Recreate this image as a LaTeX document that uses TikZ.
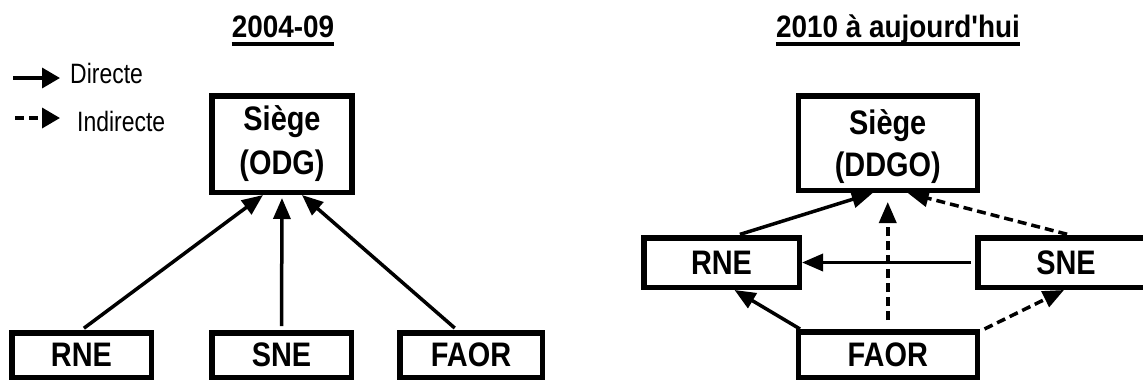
\documentclass[tikz,border=0pt]{standalone}
\usepackage{fontspec}
\setmainfont{Liberation Sans}[FakeStretch=0.82]
\newfontfamily\ttlfont{Liberation Sans}[FakeStretch=0.9]
\newfontfamily\boxfont{Liberation Sans}[FakeStretch=0.85]
\usetikzlibrary{arrows.meta}

\tikzset{
  box/.style={draw, line width=5.5pt, inner sep=0pt,
    font=\boxfont\bfseries\fontsize{34}{40}\selectfont},
  lbl/.style={inner sep=0pt, anchor=base,
    font=\boxfont\bfseries\fontsize{34}{40}\selectfont},
  ttl/.style={inner sep=0pt, anchor=base,
    font=\ttlfont\bfseries\fontsize{31}{36}\selectfont},
  leg/.style={inner sep=0pt, anchor=base west,
    font=\fontsize{28}{32}\selectfont},
  link/.style={line width=3.5pt, -{Triangle[length=21pt,width=17pt]}},
  ind/.style={link, dash pattern=on 9pt off 5pt},
  legtip/.style={line width=3.5pt, -{Triangle[length=18pt,width=20pt]}},
  ul/.style={line width=3.5pt},
}

\begin{document}
\begin{tikzpicture}[x=1pt, y=-1pt]
\useasboundingbox (0,0) rectangle (1143,381);

% titles
\node[ttl] (tl) at (283,37) {2004-09};
\node[ttl] (tr) at (898,37) {2010 à aujourd\symbol{39}hui};
\draw[ul] ([yshift=-7pt]tl.base west) -- ([yshift=-7pt]tl.base east);
\draw[ul] ([yshift=-7pt]tr.base west) -- ([yshift=-7pt]tr.base east);

% legend
\coordinate (d1) at (13,78);
\coordinate (d2) at (60,78);
\coordinate (i1) at (15,118);
\coordinate (i2) at (60,118);
\draw[legtip] (d1) -- (d2);
\draw[legtip, dash pattern=on 9pt off 5pt] (i1) -- (i2);
\node[leg] (ldir) at (70,83) {Directe};
\node[leg] (lind) at (77,131) {Indirecte};

% 2004-09 structure
\node[box, minimum width=140pt, minimum height=96.5pt] (lsiege) at (282,144) {};
\node[lbl] (ls1) at (282,130) {Siège};
\node[lbl] (ls2) at (282,174) {(ODG)};
\node[box, minimum width=139.5pt, minimum height=44.5pt] (lrne) at (81.5,355) {RNE};
\node[box, minimum width=139.5pt, minimum height=44.5pt] (lsne) at (281.5,355) {SNE};
\node[box, minimum width=142.5pt, minimum height=44.5pt] (lfaor) at (471,355) {FAOR};

\draw[link, shorten <=3pt] (lrne.north) -- ([xshift=-19pt]lsiege.south);
\draw[link, shorten <=4pt, shorten >=3pt] (lsne.north) -- (lsiege.south);
\draw[link, shorten <=3pt] ([xshift=-14pt]lfaor.north) -- ([xshift=20pt]lsiege.south);

% 2010 onwards structure
\node[box, minimum width=179pt, minimum height=94.5pt] (rsiege) at (887.75,143) {};
\node[lbl] (rs1) at (887.75,134) {Siège};
\node[lbl] (rs2) at (887.75,176) {(DDGO)};
\node[box, minimum width=155.5pt, minimum height=49.5pt] (rrne) at (721.5,262.5) {RNE};
\node[box, minimum width=176.5pt, minimum height=49.5pt] (rsne) at (1066,262.5) {SNE};
\node[box, minimum width=179pt, minimum height=45.5pt] (rfaor) at (887.75,354.5) {FAOR};

\draw[link, shorten <=2pt] ([xshift=16.5pt]rrne.north) -- ([xshift=-15pt]rsiege.south);
\draw[ind, shorten <=9pt, shorten >=9pt] (rfaor.north) -- (rsiege.south);
\draw[ind, shorten <=3pt] ([xshift=4pt]rsne.north) -- ([xshift=20pt]rsiege.south);
\draw[link, shorten <=4pt] (rsne.west) -- (rrne.east);
\draw[link] ([xshift=4.5pt]rfaor.north west) -- ([xshift=13pt]rrne.south);
\draw[ind] ([xshift=4.5pt]rfaor.north east) -- ([xshift=-2pt]rsne.south);
\end{tikzpicture}
\end{document}
